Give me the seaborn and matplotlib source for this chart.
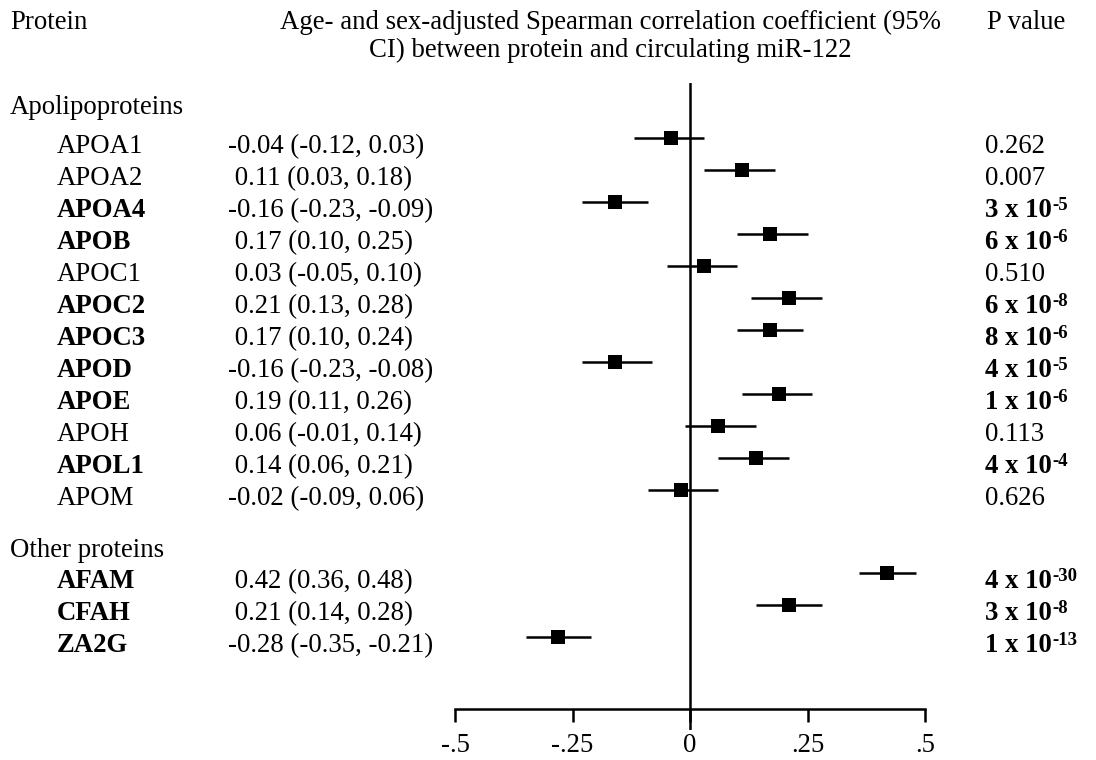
import matplotlib
matplotlib.use("Agg")
import matplotlib.pyplot as plt
import matplotlib.transforms as mtransforms
import pandas as pd
import seaborn as sns

# ---- data ----
proteins = ["APOA1", "APOA2", "APOA4", "APOB", "APOC1", "APOC2", "APOC3", "APOD",
            "APOE", "APOH", "APOL1", "APOM", "AFAM", "CFAH", "ZA2G"]
groups = ["Apolipoproteins"] * 12 + ["Other proteins"] * 3
rho = [-0.04, 0.11, -0.16, 0.17, 0.03, 0.21, 0.17, -0.16, 0.19, 0.06, 0.14, -0.02,
       0.42, 0.21, -0.28]
ci_low = [-0.12, 0.03, -0.23, 0.10, -0.05, 0.13, 0.10, -0.23, 0.11, -0.01, 0.06, -0.09,
          0.36, 0.14, -0.35]
ci_high = [0.03, 0.18, -0.09, 0.25, 0.10, 0.28, 0.24, -0.08, 0.26, 0.14, 0.21, 0.06,
           0.48, 0.28, -0.21]
p_values = ["0.262", "0.007", "3e-5", "6e-6", "0.510", "6e-8", "8e-6", "4e-5", "1e-6",
            "0.113", "4e-4", "0.626", "4e-30", "3e-8", "1e-13"]
significant = [False, False, True, True, False, True, True, True, True, False, True,
               False, True, True, True]
x_ticks = [-0.5, -0.25, 0, 0.25, 0.5]
x_tick_labels = ["-.5", "-.25", "0", ".25", ".5"]

df = pd.DataFrame({"protein": proteins, "group": groups, "rho": rho,
                   "lo": ci_low, "hi": ci_high, "p": p_values, "sig": significant})

# ---- layout (pixels of a 1096 x 760 canvas) ----
W, H = 1096, 760
ROW0, ROW_H = 138, 32                       # centre of first row, row pitch
row_pos = list(range(12)) + [13.6, 14.6, 15.6]
group_baseline = {"Apolipoproteins": -0.75, "Other proteins": 13.1}
df["row"] = row_pos

sns.set_style("white")
plt.rcParams["font.family"] = ["Liberation Serif", "DejaVu Serif"]
plt.rcParams["text.color"] = "black"
plt.rcParams["xtick.color"] = "black"
plt.rcParams["axes.labelcolor"] = "black"
FS = 19.3
EXP_FS = 13.5

fig = plt.figure(figsize=(W / 100, H / 100), dpi=100)
top_px, bot_px = 83, 730
ax = fig.add_axes([455 / W, 1 - bot_px / H, 470 / W, (bot_px - top_px) / H])
ax.set_xlim(-0.5, 0.5)
ax.set_ylim((bot_px - ROW0) / ROW_H, (top_px - ROW0) / ROW_H)

LW = 1.8
# zero reference line
ax.axvline(0, color="black", lw=LW, zorder=1)
# confidence intervals and point estimates
ax.hlines(df["row"], df["lo"], df["hi"], color="black", lw=LW, zorder=2)
sns.scatterplot(data=df, x="rho", y="row", marker="s", s=100, color="black",
                linewidth=0, legend=False, ax=ax, zorder=3, clip_on=False)

# x axis drawn as a floating bottom spine
for side in ["top", "right", "left"]:
    ax.spines[side].set_visible(False)
ax.spines["bottom"].set_position(("data", (709 - ROW0) / ROW_H))
ax.spines["bottom"].set_bounds(-0.5, 0.5)
ax.spines["bottom"].set_linewidth(LW)
ax.spines["bottom"].set_color("black")
ax.set_xticks(x_ticks)
ax.set_xticklabels(x_tick_labels)
ax.tick_params(axis="x", direction="out", length=9.4, width=LW, pad=8,
               labelsize=FS, colors="black", bottom=True)
ax.set_yticks([])
ax.set_xlabel("")
ax.set_ylabel("")

# ---- text columns ----
blend = mtransforms.blended_transform_factory(fig.transFigure, ax.transData)
BASE_OFF = 0.47  # baseline sits slightly below the row centre

for g, yb in group_baseline.items():
    ax.text(10 / W, yb, g, transform=blend, fontsize=FS, va="baseline", ha="left")

renderer = fig.canvas.get_renderer()
exp_items = []
for _, r in df.iterrows():
    yb = r["row"] + BASE_OFF
    weight = "bold" if r["sig"] else "normal"
    ax.text(57 / W, yb, r["protein"], transform=blend, fontsize=FS,
            fontweight=weight, va="baseline", ha="left")
    ci_txt = f"{r['rho']:.2f} ({r['lo']:.2f}, {r['hi']:.2f})"
    if r["rho"] >= 0:
        ci_txt = " " + ci_txt
    ax.text(228 / W, yb, ci_txt, transform=blend, fontsize=FS,
            va="baseline", ha="left")
    p = r["p"]
    if "e" in p:
        mant, ex = p.split("e")
        base = ax.text(985 / W, yb, f"{mant} x 10", transform=blend, fontsize=FS,
                       fontweight=weight, va="baseline", ha="left")
        exp_items.append((base, ex, yb, weight))
    else:
        ax.text(985 / W, yb, p, transform=blend, fontsize=FS, fontweight=weight,
                va="baseline", ha="left")

# superscript exponents placed right after "10"
for base, ex, yb, weight in exp_items:
    bb = base.get_window_extent(renderer)
    y_disp = blend.transform((0, yb))[1]
    fig.text((bb.x1 + 0.5) / W, (y_disp + 7) / H, ex, fontsize=EXP_FS,
             fontweight=weight, va="baseline", ha="left")

# ---- column headers ----
fig.text(10 / W, 1 - 29 / H, "Protein", fontsize=FS, va="baseline", ha="left")
fig.text(610 / W, 1 - 29 / H,
         "Age- and sex-adjusted Spearman correlation coefficient (95%",
         fontsize=FS, va="baseline", ha="center")
fig.text(610 / W, 1 - 57 / H, "CI) between protein and circulating miR-122",
         fontsize=FS, va="baseline", ha="center")
fig.text(987 / W, 1 - 29 / H, "P value", fontsize=FS, va="baseline", ha="left")

fig.savefig("out.png", dpi=100)
